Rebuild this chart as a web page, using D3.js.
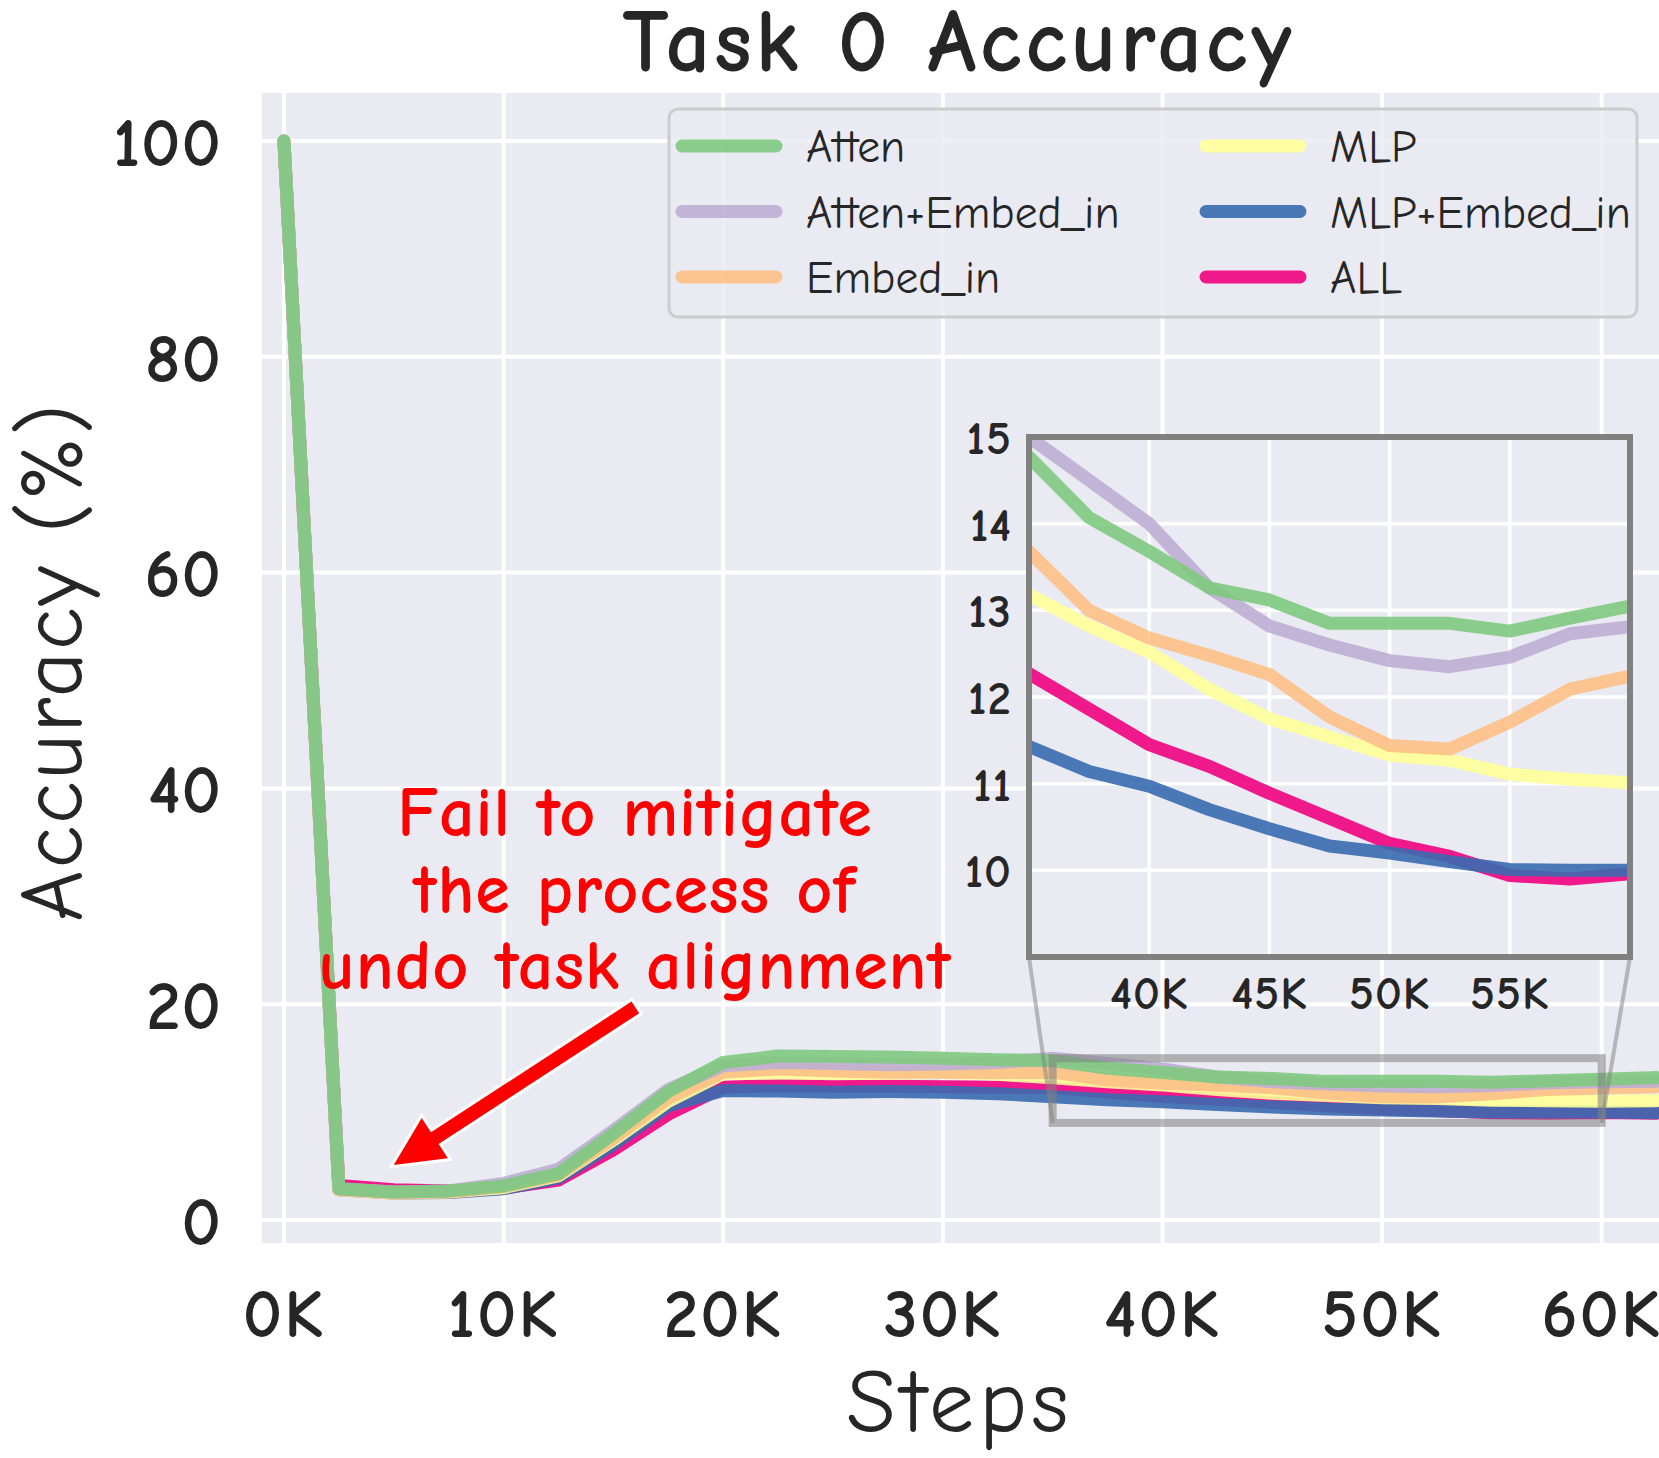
<!DOCTYPE html>
<html>
<head>
<meta charset="utf-8">
<script src="https://cdn.jsdelivr.net/npm/d3@7"></script>
<style>
  body { margin: 0; background: #fff; }
  text { font-family: 'Comic Sans MS', 'Comic Neue', Lato, sans-serif; fill: #262626; }
</style>
</head>
<body>
<div id="chart"></div>
<script>
// steps (x values) and accuracy of each run
var steps = [0, 2500, 5000, 7500, 10000, 12500, 15000, 17500, 20000, 22500, 25000, 27500, 30000,
  32500, 35000, 37500, 40000, 42500, 45000, 47500, 50000, 52500, 55000, 57500, 60000, 62500];

var atten      = [100, 2.9, 2.6, 2.7, 3.15, 4.3, 8.0, 11.9, 14.6, 15.2, 15.15, 15.1, 15.0, 14.85, 14.77, 14.07, 13.68, 13.26, 13.12, 12.85, 12.85, 12.85, 12.76, 12.91, 13.05, 13.2];
var attenEmbed = [100, 2.9, 2.6, 2.7, 3.4, 4.7, 8.3, 12.1, 14.3, 14.6, 14.5, 14.4, 14.45, 14.6, 15.0, 14.5, 14.0, 13.26, 12.82, 12.6, 12.42, 12.35, 12.46, 12.73, 12.81, 12.85];
var embedIn    = [100, 2.8, 2.5, 2.6, 3.1, 4.2, 7.6, 11.3, 13.7, 14.0, 13.8, 13.7, 13.7, 13.65, 13.68, 13.0, 12.68, 12.48, 12.26, 11.77, 11.44, 11.4, 11.71, 12.09, 12.24, 12.35];
var mlp        = [100, 2.8, 2.5, 2.6, 3.0, 4.1, 7.4, 11.0, 13.55, 13.65, 13.55, 13.6, 13.7, 13.5, 13.18, 12.82, 12.52, 12.09, 11.75, 11.54, 11.33, 11.27, 11.11, 11.05, 11.01, 11.05];
var mlpEmbed   = [100, 2.8, 2.5, 2.55, 2.9, 3.9, 7.0, 10.6, 12.0, 11.95, 11.85, 11.9, 11.85, 11.7, 11.43, 11.14, 10.97, 10.7, 10.48, 10.28, 10.2, 10.1, 10.01, 10.0, 10.0, 9.95];
var allParams  = [100, 3.2, 2.8, 2.7, 2.95, 3.7, 6.5, 9.8, 12.3, 12.45, 12.4, 12.4, 12.35, 12.3, 12.27, 11.86, 11.45, 11.2, 10.89, 10.6, 10.31, 10.16, 9.94, 9.9, 9.96, 9.9];

var seriesNames = ["Atten", "Atten+Embed_in", "Embed_in", "MLP", "MLP+Embed_in", "ALL"];
var seriesValues = [atten, attenEmbed, embedIn, mlp, mlpEmbed, allParams];
var seriesColors = ["#7fc97f", "#beaed4", "#fdc086", "#ffff99", "#386cb0", "#f0027f"];

var yTicks = [0, 20, 40, 60, 80, 100];
var xTicks = [0, 10000, 20000, 30000, 40000, 50000, 60000];
var zoomX = [35000, 60000], zoomY = [9, 15];
var insetXTicks = [40000, 45000, 50000, 55000];
var insetYTicks = [10, 11, 12, 13, 14, 15];
var noteLines = ["Fail to mitigate", "the process of", "undo task alignment"];

var W = 1659, H = 1458;
var plot = { left: 262, top: 93, right: 1661, bottom: 1243 };
var inset = { left: 1029, top: 437, right: 1630, bottom: 957 };

var series = seriesNames.map(function (name, i) {
  return { name: name, color: seriesColors[i],
    values: steps.map(function (s, j) { return { step: s, v: seriesValues[i][j] }; }) };
});

var svg = d3.select("#chart").append("svg").attr("width", W).attr("height", H);
var defs = svg.append("defs");

var x = d3.scaleLinear().domain([-1000, 62700]).range([plot.left, plot.right]);
var y = d3.scaleLinear().domain([-2.13, 104.45]).range([plot.bottom, plot.top]);

defs.append("clipPath").attr("id", "mainClip").append("rect")
  .attr("x", plot.left).attr("y", plot.top)
  .attr("width", plot.right - plot.left).attr("height", plot.bottom - plot.top);

// background + grid
svg.append("rect").attr("x", plot.left).attr("y", plot.top)
  .attr("width", plot.right - plot.left).attr("height", plot.bottom - plot.top)
  .attr("fill", "#eaeaf2");

var grid = svg.append("g").attr("stroke", "#fff").attr("stroke-width", 4);
grid.selectAll(".gy").data(yTicks).enter().append("line")
  .attr("x1", plot.left).attr("x2", plot.right)
  .attr("y1", d => y(d)).attr("y2", d => y(d));
grid.selectAll(".gx").data(xTicks).enter().append("line")
  .attr("y1", plot.top).attr("y2", plot.bottom)
  .attr("x1", d => x(d)).attr("x2", d => x(d));

// tick labels
svg.append("g").selectAll("text").data(yTicks).enter().append("text")
  .attr("x", 222).attr("y", d => y(d)).attr("dy", "0.36em")
  .attr("text-anchor", "end").attr("font-size", 69).attr("font-weight", "bold")
  .attr("letter-spacing", 1).text(d => d);
svg.append("g").selectAll("text").data(xTicks).enter().append("text")
  .attr("x", d => x(d)).attr("y", 1337)
  .attr("text-anchor", "middle").attr("font-size", 69).attr("font-weight", "bold")
  .attr("letter-spacing", 2).text(d => (d / 1000) + "K");

// axis titles
svg.append("text").attr("x", 960).attr("y", 1432).attr("text-anchor", "middle")
  .attr("font-size", 90).attr("letter-spacing", 5).text("Steps");
svg.append("text").attr("transform", "translate(82,662) rotate(-90)")
  .attr("text-anchor", "middle").attr("font-size", 88).attr("letter-spacing", 2).text("Accuracy (%)");
svg.append("text").attr("x", 959).attr("y", 71).attr("text-anchor", "middle")
  .attr("font-size", 88).attr("font-weight", "bold").attr("letter-spacing", 4).text("Task 0 Accuracy");

// lines (last series drawn first so Atten sits on top)
var line = d3.line().x(d => x(d.step)).y(d => y(d.v));
svg.append("g").attr("clip-path", "url(#mainClip)")
  .selectAll("path").data(series.slice().reverse()).enter().append("path")
  .attr("d", d => line(d.values))
  .attr("fill", "none").attr("stroke", d => d.color).attr("stroke-opacity", 0.9)
  .attr("stroke-width", 13).attr("stroke-linecap", "round").attr("stroke-linejoin", "round");

// zoom marker + connectors
var mark = svg.append("g").attr("fill", "none").attr("stroke", "#808080");
mark.append("rect")
  .attr("x", x(zoomX[0])).attr("y", y(zoomY[1]))
  .attr("width", x(zoomX[1]) - x(zoomX[0])).attr("height", y(zoomY[0]) - y(zoomY[1]))
  .attr("stroke-width", 8).attr("stroke-opacity", 0.55);
mark.append("line").attr("x1", inset.left).attr("y1", inset.bottom)
  .attr("x2", x(zoomX[0])).attr("y2", y(zoomY[0]))
  .attr("stroke-width", 4).attr("stroke-opacity", 0.5);
mark.append("line").attr("x1", inset.right).attr("y1", inset.bottom)
  .attr("x2", x(zoomX[1])).attr("y2", y(zoomY[0]))
  .attr("stroke-width", 4).attr("stroke-opacity", 0.5);

// annotation text + arrow
var note = svg.append("g");
note.selectAll("text").data(noteLines).enter().append("text")
  .attr("x", 635).attr("y", (d, i) => 836 + i * 76.5)
  .attr("text-anchor", "middle").attr("font-size", 70).attr("font-weight", "bold")
  .attr("letter-spacing", 1).style("fill", "#ff0000").text(d => d);

var tail = [x(16000), y(19.7)], tip = [x(5000), y(5.1)];
var dx = tip[0] - tail[0], dy = tip[1] - tail[1], len = Math.sqrt(dx * dx + dy * dy);
var ux = dx / len, uy = dy / len, nx = -uy, ny = ux;
var sw = 7, hw = 24, hl = 49;
var bx = tip[0] - ux * hl, by = tip[1] - uy * hl;
var pts = [
  [tail[0] + nx * sw, tail[1] + ny * sw], [bx + nx * sw, by + ny * sw], [bx + nx * hw, by + ny * hw],
  tip, [bx - nx * hw, by - ny * hw], [bx - nx * sw, by - ny * sw], [tail[0] - nx * sw, tail[1] - ny * sw]
];
note.append("path").attr("d", "M" + pts.join("L") + "Z")
  .attr("fill", "#ff0000").attr("stroke", "#fff").attr("stroke-width", 6)
  .attr("paint-order", "stroke").attr("stroke-linejoin", "miter");

// legend
var legend = svg.append("g");
legend.append("rect").attr("x", 669).attr("y", 109).attr("width", 968).attr("height", 208)
  .attr("rx", 9).attr("fill", "#eaeaf2").attr("fill-opacity", 0.8)
  .attr("stroke", "#cccccc").attr("stroke-width", 3);
var item = legend.selectAll(".item").data(series).enter().append("g")
  .attr("transform", (d, i) => "translate(" + (i < 3 ? 682 : 1206) + "," + (146 + (i % 3) * 65.5) + ")");
item.append("line").attr("x1", 0).attr("x2", 94)
  .attr("stroke", d => d.color).attr("stroke-opacity", 0.9)
  .attr("stroke-width", 13).attr("stroke-linecap", "round");
item.append("text").attr("x", 124).attr("dy", "0.36em").attr("font-size", 45.5)
  .text(d => d.name);

// inset
var ix = d3.scaleLinear().domain(zoomX).range([inset.left, inset.right]);
var iy = d3.scaleLinear().domain(zoomY).range([inset.bottom, inset.top]);
defs.append("clipPath").attr("id", "insetClip").append("rect")
  .attr("x", inset.left).attr("y", inset.top)
  .attr("width", inset.right - inset.left).attr("height", inset.bottom - inset.top);

var ig = svg.append("g");
ig.append("rect").attr("x", inset.left).attr("y", inset.top)
  .attr("width", inset.right - inset.left).attr("height", inset.bottom - inset.top)
  .attr("fill", "#eaeaf2");
var igrid = ig.append("g").attr("stroke", "#fff").attr("stroke-width", 3.5);
igrid.selectAll(".gy").data(insetYTicks).enter().append("line")
  .attr("x1", inset.left).attr("x2", inset.right)
  .attr("y1", d => iy(d)).attr("y2", d => iy(d));
igrid.selectAll(".gx").data(insetXTicks).enter().append("line")
  .attr("y1", inset.top).attr("y2", inset.bottom)
  .attr("x1", d => ix(d)).attr("x2", d => ix(d));

var iline = d3.line().x(d => ix(d.step)).y(d => iy(d.v));
ig.append("g").attr("clip-path", "url(#insetClip)")
  .selectAll("path").data(series.slice().reverse()).enter().append("path")
  .attr("d", d => iline(d.values))
  .attr("fill", "none").attr("stroke", d => d.color).attr("stroke-opacity", 0.9)
  .attr("stroke-width", 13).attr("stroke-linecap", "round").attr("stroke-linejoin", "round");

ig.append("rect").attr("x", inset.left).attr("y", inset.top)
  .attr("width", inset.right - inset.left).attr("height", inset.bottom - inset.top)
  .attr("fill", "none").attr("stroke", "#808080").attr("stroke-width", 6);

ig.append("g").selectAll("text").data(insetYTicks).enter().append("text")
  .attr("x", 1012).attr("y", d => iy(d)).attr("dy", "0.36em")
  .attr("text-anchor", "end").attr("font-size", 47).attr("font-weight", "bold")
  .attr("letter-spacing", 1).text(d => d);
ig.append("g").selectAll("text").data(insetXTicks).enter().append("text")
  .attr("x", d => ix(d)).attr("y", 1009)
  .attr("text-anchor", "middle").attr("font-size", 47).attr("font-weight", "bold")
  .attr("letter-spacing", 1).text(d => (d / 1000) + "K");
</script>
</body>
</html>
